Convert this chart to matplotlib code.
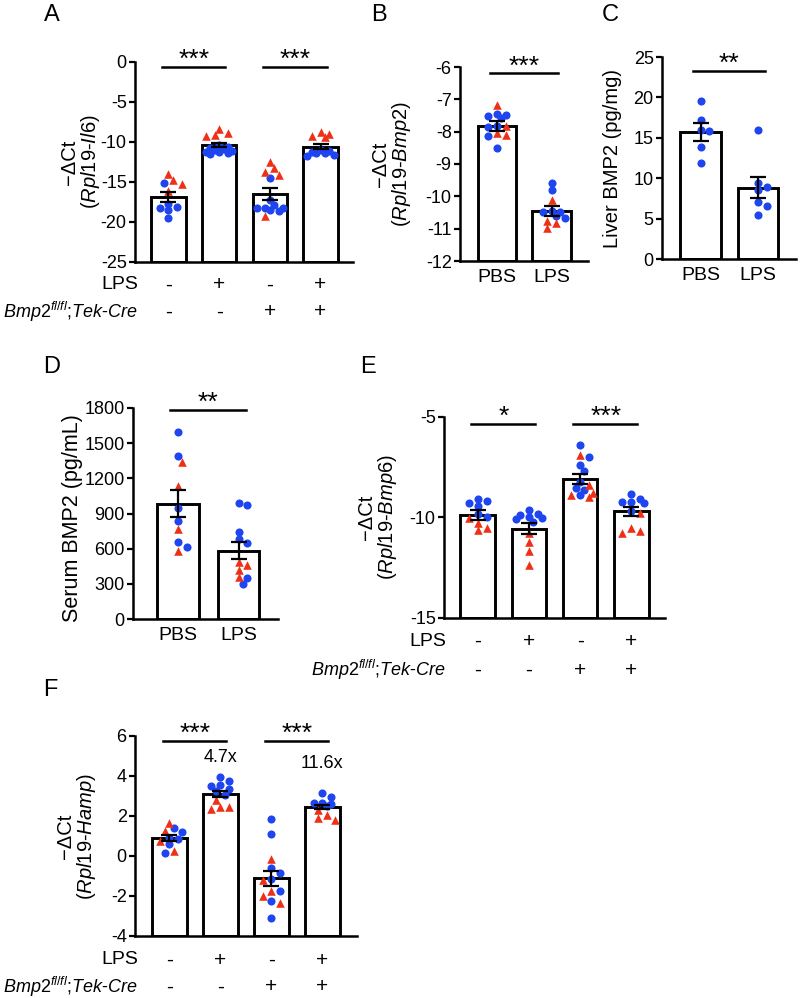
import numpy as np
import matplotlib
matplotlib.use("Agg")
import matplotlib.pyplot as plt

plt.rcParams['font.family'] = ['Liberation Sans', 'DejaVu Sans']
plt.rcParams['mathtext.fontset'] = 'custom'
plt.rcParams['mathtext.rm'] = 'Liberation Sans'
plt.rcParams['mathtext.it'] = 'Liberation Sans:italic'
plt.rcParams['axes.unicode_minus'] = False

BLUE = '#1f45f0'
RED = '#ee3018'

# ---- data ----
# A: Il6
a_mean = [-16.9, -10.4, -16.5, -10.6]
a_sem = [0.6, 0.25, 0.7, 0.3]
a_blue = [[-15.1, -17.8, -18.1, -18.2, -18.5, -19.5],
          [-10.4, -10.6, -10.7, -10.9, -11.0, -11.1, -11.2, -11.3, -11.4, -11.5],
          [-14.5, -17.2, -17.9, -18.2, -18.3, -18.3, -18.5, -18.6],
          [-11.0, -11.1, -11.2, -11.4, -11.4, -11.6, -11.7]]
a_red = [[-14.0, -14.8, -15.2, -16.1],
         [-8.4, -8.9, -9.1, -9.2],
         [-12.5, -13.3, -13.8, -14.1, -19.2],
         [-8.8, -9.0, -9.2, -9.4]]

# B: Bmp2
b_groups = ['PBS', 'LPS']
b_mean = [-7.82, -10.46]
b_sem = [0.15, 0.16]
b_blue = [[-7.46, -7.49, -7.52, -7.59, -7.83, -7.85, -8.14, -8.5],
          [-9.58, -9.81, -10.45, -10.47, -10.5, -10.62, -10.66]]
b_red = [[-7.18, -7.83, -8.05, -8.1],
         [-10.12, -10.77, -10.84, -10.99]]

# C: liver BMP2
c_mean = [15.7, 8.8]
c_sem = [1.07, 1.3]
c_blue = [[19.5, 17.2, 16.0, 15.8, 13.9, 11.9],
          [16.0, 9.4, 8.9, 8.5, 7.1, 6.6, 5.5]]
c_red = [[], []]

# D: serum BMP2
d_mean = [984, 583]
d_sem = [114, 72]
d_blue = [[1595, 1393, 947, 833, 657, 617],
          [986, 975, 745, 685, 645, 352, 301]]
d_red = [[1336, 1131, 768, 577],
         [486, 463, 421, 358]]

# E: Bmp6
e_mean = [-9.86, -10.56, -8.07, -9.7]
e_sem = [0.25, 0.27, 0.25, 0.21]
e_blue = [[-9.06, -9.18, -9.28, -9.43, -9.85, -9.98],
          [-9.63, -9.81, -9.9, -9.96, -10.03, -10.06, -10.23],
          [-6.38, -6.99, -7.41, -7.71, -8.22, -8.53, -8.65, -8.88],
          [-8.82, -9.07, -9.24, -9.24, -9.29, -9.67]]
e_red = [[-10.03, -10.26, -10.51, -10.64],
         [-10.76, -11.2, -11.67, -12.35],
         [-6.88, -8.37, -8.78, -8.86, -8.97],
         [-9.76, -10.5, -10.66, -10.75]]

# F: Hamp
f_mean = [0.89, 3.1, -1.12, 2.43]
f_sem = [0.14, 0.13, 0.37, 0.1]
f_blue = [[1.38, 1.22, 0.92, 0.83, 0.6, 0.13],
          [3.97, 3.75, 3.55, 3.52, 3.33, 3.27, 3.05],
          [1.85, 1.1, -0.62, -0.87, -1.17, -1.73, -2.25, -3.1],
          [3.17, 2.97, 2.63, 2.63, 2.6, 2.52]]
f_red = [[1.67, 1.25, 0.75, 0.27],
         [2.8, 2.47, 2.43, 2.33],
         [-0.15, -1.2, -1.73, -1.98, -2.37],
         [2.3, 2.05, 1.88, 1.8]]
f_fold = ['4.7x', '11.6x']

lps_signs = ['-', '+', '-', '+']
cre_signs = ['-', '-', '+', '+']
cre_label = r'$\mathit{Bmp2^{fl/fl}}$;$\mathit{Tek}$-$\mathit{Cre}$'

W, H = 800, 998
fig = plt.figure(figsize=(W / 100, H / 100), dpi=100)


def make_ax(left, top, right, bottom, xlim, ylim, yticks):
    ax = fig.add_axes([left / W, 1 - bottom / H, (right - left) / W, (bottom - top) / H])
    ax.set_xlim(*xlim)
    ax.set_ylim(*ylim)
    ax.set_yticks(yticks)
    for s in ['top', 'right']:
        ax.spines[s].set_visible(False)
    for s in ['left', 'bottom']:
        ax.spines[s].set_linewidth(1.8)
    ax.tick_params(axis='y', length=4.5, width=1.6, labelsize=13, pad=1.5)
    ax.tick_params(axis='x', length=0, labelsize=14, pad=6)
    ax.set_xticks([])
    return ax


def swarm_x(ax, x0, vals, d=7.0, maxoff=14):
    # simple beeswarm in pixel space, kept inside the bar
    tr = ax.transData
    inv = tr.inverted()
    placed = []
    xs = np.zeros(len(vals))
    order = np.argsort(vals)[::-1]
    shifts = [0.0]
    step = d / 1.6
    k = 1
    while k * step <= maxoff:
        shifts += [k * step, -k * step]
        k += 1
    for i in order:
        px, py = tr.transform((x0, vals[i]))
        best, best_gap = px, -1
        for s in shifts:
            cx = px + s
            gap = min([np.hypot(cx - qx, py - qy) for qx, qy in placed], default=1e9)
            if gap >= d:
                best = cx
                break
            if gap > best_gap + 0.5:
                best, best_gap = cx, gap
        placed.append((best, py))
        xs[i] = inv.transform((best, py))[0]
    return xs


def draw_bars(ax, means, sems, blue, red, width=0.68):
    # bars start at the bottom of the axis (also for negative scales)
    base = ax.get_ylim()[0]
    x = np.arange(len(means))
    heights = [m - base for m in means]
    ax.bar(x, heights, width=width, bottom=base, color='white', edgecolor='black',
           linewidth=2.1, zorder=1)
    for i in range(len(means)):
        vals = np.array(list(blue[i]) + list(red[i]), dtype=float)
        is_blue = np.array([True] * len(blue[i]) + [False] * len(red[i]))
        xs = swarm_x(ax, x[i], vals)
        ax.scatter(xs[is_blue], vals[is_blue], s=34, marker='o', color=BLUE,
                   linewidths=0, zorder=3, clip_on=False)
        ax.scatter(xs[~is_blue], vals[~is_blue], s=38, marker='^', color=RED,
                   linewidths=0, zorder=3, clip_on=False)
    ax.errorbar(x, means, yerr=sems, fmt='none', ecolor='black', elinewidth=1.6,
                capsize=6, capthick=1.6, zorder=4)


def sig(ax, x1, x2, y, stars):
    ax.plot([x1 - 0.13, x2 + 0.12], [y, y], color='black', lw=1.8, clip_on=False)
    ax.annotate(stars, xy=((x1 + x2) / 2, y), xytext=(0, -4), textcoords='offset points',
                ha='center', va='bottom', fontsize=19, annotation_clip=False)


def ylabel2(ax, gene, xpos):
    ax.text(xpos, 0.5, '\u2212\u0394Ct\n(' + gene + ')', transform=ax.transAxes,
            rotation=90, ha='center', va='center', fontsize=14.5, linespacing=1.0)


def sign_rows(ax, lps_y, cre_y, label_x):
    tr = ax.get_xaxis_transform()
    ax.text(label_x, lps_y, 'LPS', transform=tr, ha='right', va='center', fontsize=14)
    ax.text(label_x, cre_y, cre_label, transform=tr, ha='right', va='center', fontsize=13)
    for i in range(4):
        ax.text(i, lps_y, lps_signs[i], transform=tr, ha='center', va='center', fontsize=15)
        ax.text(i, cre_y, cre_signs[i], transform=tr, ha='center', va='center', fontsize=15)


def letter(x, y, s):
    fig.text(x / W, 1 - y / H, s, ha='center', va='center', fontsize=17)


# ---- A ----
axA = make_ax(135, 62, 353, 262, (-0.66, 3.64), (-25, 0), [0, -5, -10, -15, -20, -25])
draw_bars(axA, a_mean, a_sem, a_blue, a_red)
sig(axA, 0, 1, -0.6, '***')
sig(axA, 2, 3, -0.6, '***')
ylabel2(axA, r'$\mathit{Rpl19}$-$\mathit{Il6}$', -0.25)
sign_rows(axA, -0.115, -0.25, -0.6)
letter(52, 15, 'A')

# ---- B ----
axB = make_ax(460, 67, 588, 261, (-0.68, 1.67), (-12, -6), [-6, -7, -8, -9, -10, -11, -12])
draw_bars(axB, b_mean, b_sem, b_blue, b_red, width=0.7)
axB.set_xticks([0, 1])
axB.set_xticklabels(b_groups)
sig(axB, 0, 1, -6.19, '***')
ylabel2(axB, r'$\mathit{Rpl19}$-$\mathit{Bmp2}$', -0.53)
letter(379, 15, 'B')

# ---- C ----
axC = make_ax(662, 57, 796, 259, (-0.67, 1.66), (0, 25), [0, 5, 10, 15, 20, 25])
draw_bars(axC, c_mean, c_sem, c_blue, c_red, width=0.71)
axC.set_xticks([0, 1])
axC.set_xticklabels(b_groups)
sig(axC, 0, 1, 23.3, '**')
axC.text(-0.37, 0.5, 'Liver BMP2 (pg/mg)', transform=axC.transAxes, rotation=90,
         ha='center', va='center', fontsize=14.5)
letter(610, 15, 'C')

# ---- D ----
axD = make_ax(133, 408, 278, 619, (-0.74, 1.65), (0, 1800), [0, 300, 600, 900, 1200, 1500, 1800])
draw_bars(axD, d_mean, d_sem, d_blue, d_red, width=0.69)
axD.set_xticks([0, 1])
axD.set_xticklabels(b_groups)
sig(axD, 0, 1, 1786, '**')
axD.text(-0.42, 0.48, 'Serum BMP2 (pg/mL)', transform=axD.transAxes, rotation=90,
         ha='center', va='center', fontsize=15.5)
letter(52, 367, 'D')

# ---- E ----
axE = make_ax(444, 417, 665, 618, (-0.66, 3.66), (-15, -5), [-5, -10, -15])
draw_bars(axE, e_mean, e_sem, e_blue, e_red)
sig(axE, 0, 1, -5.33, '*')
sig(axE, 2, 3, -5.33, '***')
ylabel2(axE, r'$\mathit{Rpl19}$-$\mathit{Bmp6}$', -0.30)
sign_rows(axE, -0.118, -0.26, -0.62)
letter(368, 367, 'E')

# ---- F ----
axF = make_ax(135, 736, 357, 936, (-0.67, 3.68), (-4, 6), [6, 4, 2, 0, -2, -4])
draw_bars(axF, f_mean, f_sem, f_blue, f_red)
sig(axF, 0, 1, 5.77, '***')
sig(axF, 2, 3, 5.77, '***')
axF.text(1, 4.9, f_fold[0], ha='center', va='center', fontsize=13)
axF.text(3, 4.63, f_fold[1], ha='center', va='center', fontsize=13)
ylabel2(axF, r'$\mathit{Rpl19}$-$\mathit{Hamp}$', -0.26)
sign_rows(axF, -0.12, -0.255, -0.6)
letter(50, 690, 'F')

fig.savefig('out.png', dpi=100)
